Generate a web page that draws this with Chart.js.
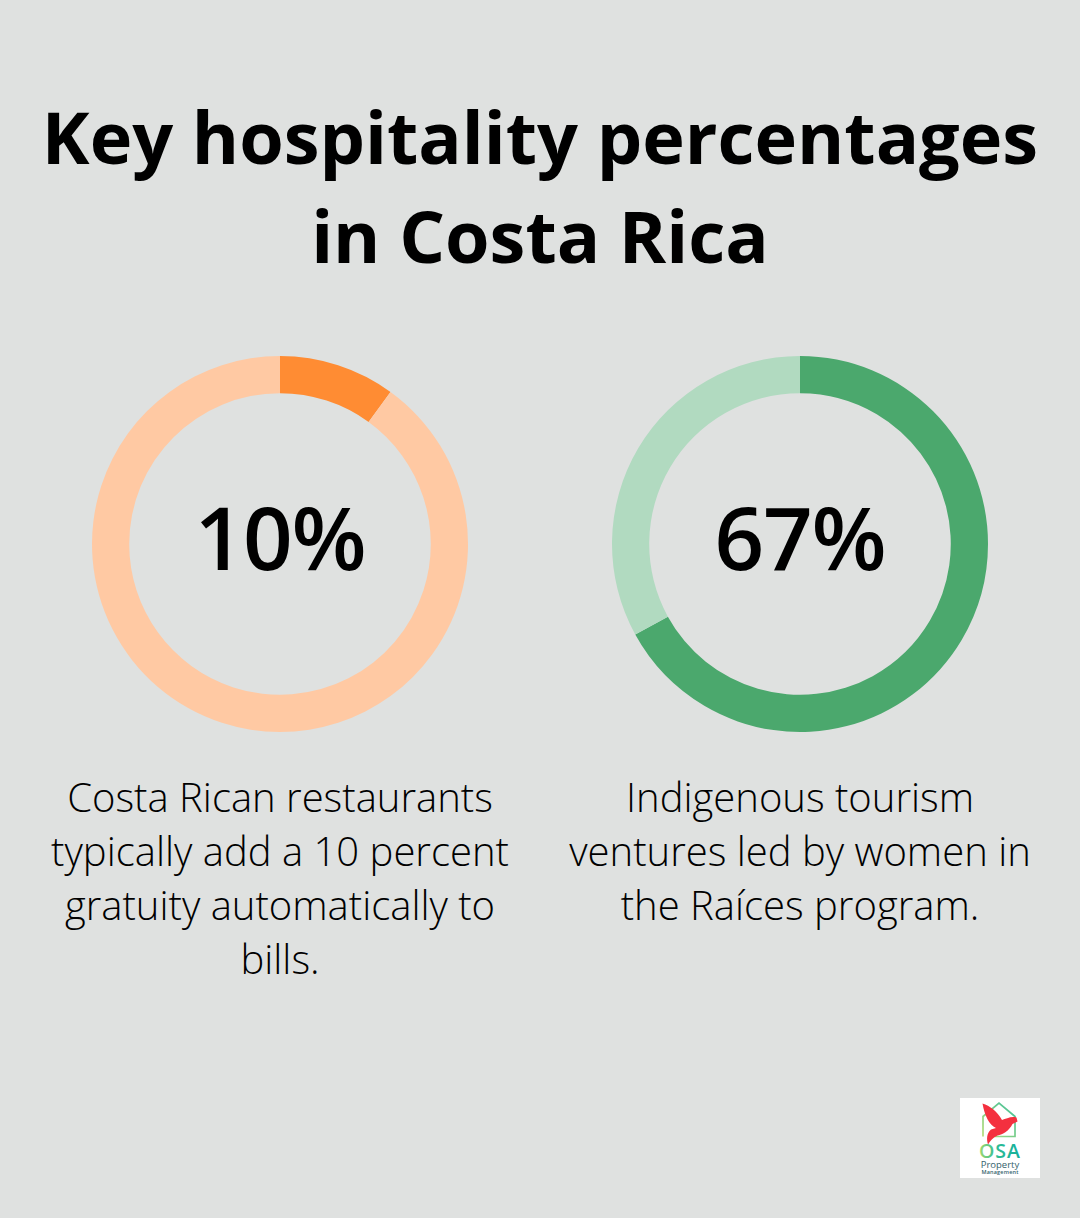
<!DOCTYPE html>
<html>
<head>
<meta charset="utf-8">
<script src="https://cdn.jsdelivr.net/npm/chart.js@4/dist/chart.umd.min.js"></script>
<style>
  html, body { margin: 0; padding: 0; background: #dfe1e0; }
  #page { position: relative; width: 1080px; height: 1218px; overflow: hidden; font-family: "Open Sans", sans-serif; color: #000; }
  h1 { position: absolute; left: 0; top: 87px; width: 1080px; margin: 0; text-align: center; font-size: 72px; line-height: 99px; font-weight: 700; }
  .wrap { position: absolute; top: 344px; width: 400px; height: 400px; }
  .value { position: absolute; top: 486px; width: 400px; text-align: center; font-size: 87px; line-height: 100px; font-weight: 600; letter-spacing: -1.2px; }
  .note { position: absolute; top: 770px; width: 480px; text-align: center; font-size: 40px; line-height: 54px; font-weight: 300; }
  #logo { position: absolute; left: 960px; top: 1098px; width: 80px; height: 80px; background: #fff; }
</style>
</head>
<body>
<div id="page">
  <h1>Key hospitality percentages<br>in Costa Rica</h1>
  <div class="wrap" style="left:80px"><canvas id="chart1" width="400" height="400"></canvas></div>
  <div class="wrap" style="left:600px"><canvas id="chart2" width="400" height="400"></canvas></div>
  <div class="value" style="left:80px" id="value1"></div>
  <div class="value" style="left:600px" id="value2"></div>
  <div class="note" style="left:40px">Costa Rican restaurants<br>typically add a 10 percent<br>gratuity automatically to<br>bills.</div>
  <div class="note" style="left:560px">Indigenous tourism<br>ventures led by women in<br>the Raíces program.</div>
  <div id="logo">
    <svg width="80" height="80" viewBox="0 0 80 80">
      <defs>
        <linearGradient id="houseLine" x1="0" y1="1" x2="1" y2="0">
          <stop offset="0" stop-color="#b5dc7a"/>
          <stop offset="1" stop-color="#3dbf9a"/>
        </linearGradient>
        <linearGradient id="osaText" x1="0" y1="0" x2="1" y2="0">
          <stop offset="0" stop-color="#a5d86e"/>
          <stop offset="0.4" stop-color="#2fbd94"/>
          <stop offset="1" stop-color="#14ae9c"/>
        </linearGradient>
      </defs>
      <path d="M23 38.5 V18.5 L39 5 L55 18.5 V38.5 H34" fill="none" stroke="url(#houseLine)" stroke-width="1.7"/>
      <path d="M22.5 5.5 C30 8 37 13 42 22 C46 21 51 18 56.5 19.5 L57.5 23.5 L52.5 26 C49 33 43 36.5 37.5 37.5 C33 39.5 30 43 28 46.5 C26.5 41 26.5 35.5 31 31.5 L36 30 C29 27 24.5 17 22.5 5.5 Z" fill="#f4303f"/>
      <text x="40" y="60" text-anchor="middle" font-family="Open Sans" font-weight="600" font-size="19.5" letter-spacing="1" fill="url(#osaText)">OSA</text>
      <text x="40" y="69.5" text-anchor="middle" font-family="Open Sans" font-size="9.5" fill="#33616b">Property</text>
      <text x="40" y="75.5" text-anchor="middle" font-family="Open Sans" font-weight="600" font-size="5.5" letter-spacing="0.2" fill="#33616b">Management</text>
    </svg>
  </div>
</div>
<script>
var percents = [10, 67];
var shares1 = [10, 90];
var shares2 = [67, 33];
var colors1 = ['#ff8c33', '#ffc9a3'];
var colors2 = ['#4ba86d', '#b1dac0'];

function makeDonut(id, values, colors) {
    return new Chart(document.getElementById(id).getContext('2d'), {
        type: 'doughnut',
        data: {
            datasets: [{
                data: values,
                backgroundColor: colors,
                borderWidth: 0
            }]
        },
        options: {
            responsive: false,
            animation: false,
            cutout: '80.2%',
            radius: 188,
            layout: { padding: 0 },
            plugins: {
                legend: { display: false },
                tooltip: { enabled: false }
            }
        }
    });
}

makeDonut('chart1', shares1, colors1);
makeDonut('chart2', shares2, colors2);
document.getElementById('value1').textContent = percents[0] + '%';
document.getElementById('value2').textContent = percents[1] + '%';
</script>
</body>
</html>
